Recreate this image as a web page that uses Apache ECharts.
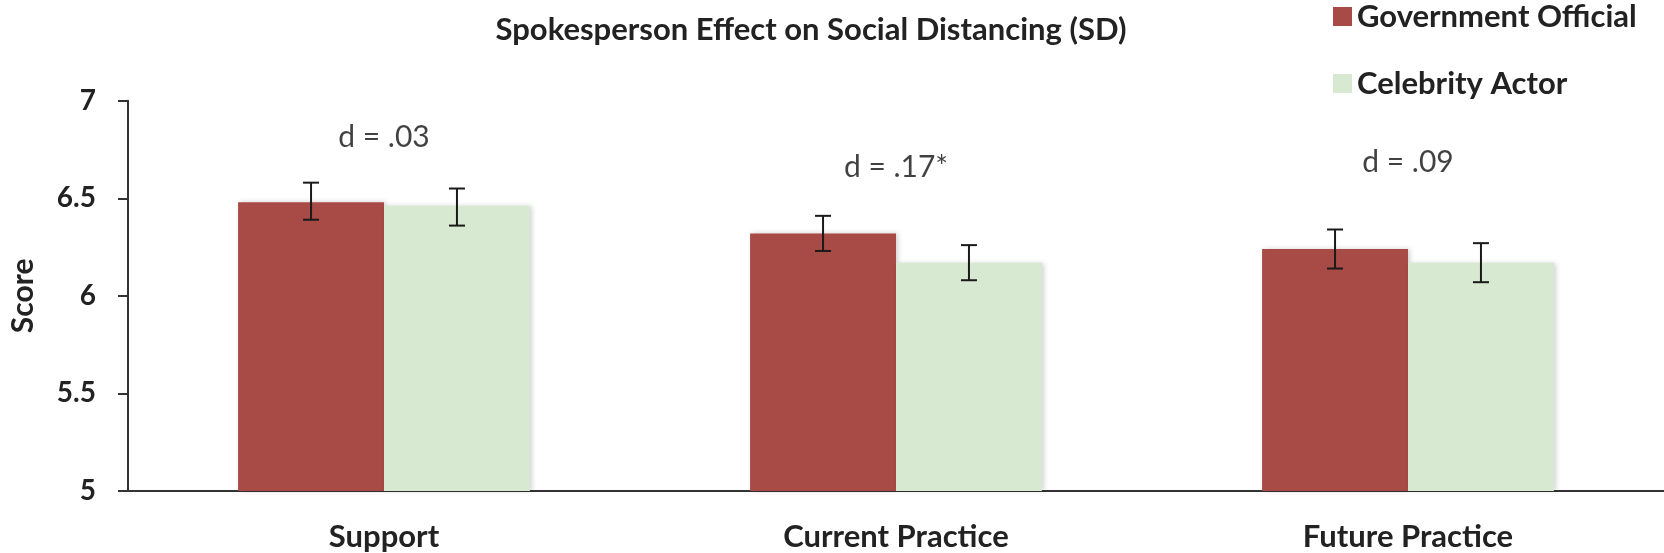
<!DOCTYPE html>
<html>
<head>
<meta charset="utf-8">
<script src="https://cdn.jsdelivr.net/npm/echarts@6/dist/echarts.min.js"></script>
<style>
  html, body { margin: 0; padding: 0; background: #fff; }
  #main { width: 1664px; height: 553px; }
</style>
</head>
<body>
<div id="main"></div>
<script>
// categories and values
let categories = ['Support', 'Current Practice', 'Future Practice']
let govMean = [6.48, 6.32, 6.24]
let govLow = [6.39, 6.23, 6.14]
let govHigh = [6.58, 6.41, 6.34]
let celebMean = [6.46, 6.17, 6.17]
let celebLow = [6.36, 6.08, 6.07]
let celebHigh = [6.55, 6.26, 6.27]
let dLabels = ['d = .03', 'd = .17*', 'd = .09']
let dPos = [6.81, 6.66, 6.685] // height of the effect size text
let yTicks = [5, 5.5, 6, 6.5, 7]

const FONT = 'Lato'
const CAT_GAP = 0.43 // share of band left empty

let chart = echarts.init(document.getElementById('main'), null, { renderer: 'canvas' })

// error bars drawn next to the bar they belong to (side -1 left, +1 right)
function errorBars(side) {
  return function (params, api) {
    let idx = api.value(0)
    let lo = api.coord([idx, api.value(1)])
    let hi = api.coord([idx, api.value(2)])
    let band = api.size([1, 0])[0]
    let barW = band * (1 - CAT_GAP) / 2
    let x = lo[0] + side * barW / 2
    let cap = 8
    let st = { stroke: '#1a1a1a', lineWidth: 2 }
    return {
      type: 'group',
      children: [
        { type: 'line', shape: { x1: x, y1: hi[1], x2: x, y2: lo[1] }, style: st },
        { type: 'line', shape: { x1: x - cap, y1: hi[1], x2: x + cap, y2: hi[1] }, style: st },
        { type: 'line', shape: { x1: x - cap, y1: lo[1], x2: x + cap, y2: lo[1] }, style: st }
      ]
    }
  }
}

let barShadow = {
  shadowBlur: 5,
  shadowColor: 'rgba(0,0,0,0.18)',
  shadowOffsetX: 2,
  shadowOffsetY: 0
}

let option = {
  animation: false,
  title: {
    text: 'Spokesperson Effect on Social Distancing (SD)',
    left: 806,
    textAlign: 'center',
    top: 9,
    textStyle: { fontFamily: FONT, fontWeight: 'bold', fontSize: 31, color: '#222' }
  },
  legend: {
    orient: 'vertical',
    left: 1328,
    top: -4,
    itemWidth: 19,
    itemHeight: 19,
    itemGap: 36,
    icon: 'rect',
    data: ['Government Official', 'Celebrity Actor'],
    textStyle: { fontFamily: FONT, fontWeight: 'bold', fontSize: 31, lineHeight: 31, color: '#222' }
  },
  grid: { left: 117, right: 0, top: 100.7, bottom: 62 },
  xAxis: {
    type: 'category',
    data: categories,
    axisLine: { lineStyle: { color: '#333', width: 2 } },
    axisTick: { show: false },
    axisLabel: { margin: 30, fontFamily: FONT, fontWeight: 'bold', fontSize: 31, color: '#222' }
  },
  yAxis: {
    type: 'value',
    min: yTicks[0],
    max: yTicks[yTicks.length - 1],
    interval: 0.5,
    name: 'Score',
    nameLocation: 'middle',
    nameRotate: 90,
    nameGap: 90,
    nameTextStyle: { fontFamily: FONT, fontWeight: 'bold', fontSize: 30, color: '#222' },
    axisLine: { show: true, lineStyle: { color: '#333', width: 2 } },
    axisTick: { show: true, length: 10, lineStyle: { color: '#333', width: 2 } },
    splitLine: { show: false },
    axisLabel: { margin: 32, fontFamily: FONT, fontWeight: 'bold', fontSize: 28, color: '#222' }
  },
  series: [
    {
      name: 'Government Official',
      type: 'bar',
      data: govMean,
      barGap: '0%',
      barCategoryGap: (CAT_GAP * 100) + '%',
      itemStyle: Object.assign({ color: '#a84a45' }, barShadow)
    },
    {
      name: 'Celebrity Actor',
      type: 'bar',
      data: celebMean,
      barGap: '0%',
      barCategoryGap: (CAT_GAP * 100) + '%',
      itemStyle: Object.assign({ color: '#d7e9d0' }, barShadow)
    },
    {
      type: 'custom',
      renderItem: errorBars(-1),
      data: categories.map((c, i) => [i, govLow[i], govHigh[i]]),
      z: 10,
      silent: true
    },
    {
      type: 'custom',
      renderItem: errorBars(1),
      data: categories.map((c, i) => [i, celebLow[i], celebHigh[i]]),
      z: 10,
      silent: true
    },
    {
      type: 'scatter',
      symbolSize: 0,
      silent: true,
      data: categories.map((c, i) => [i, dPos[i]]),
      label: {
        show: true,
        position: 'inside',
        formatter: p => dLabels[p.dataIndex],
        fontFamily: FONT,
        fontSize: 30,
        color: '#111'
      }
    }
  ]
}
chart.setOption(option)
</script>
</body>
</html>
